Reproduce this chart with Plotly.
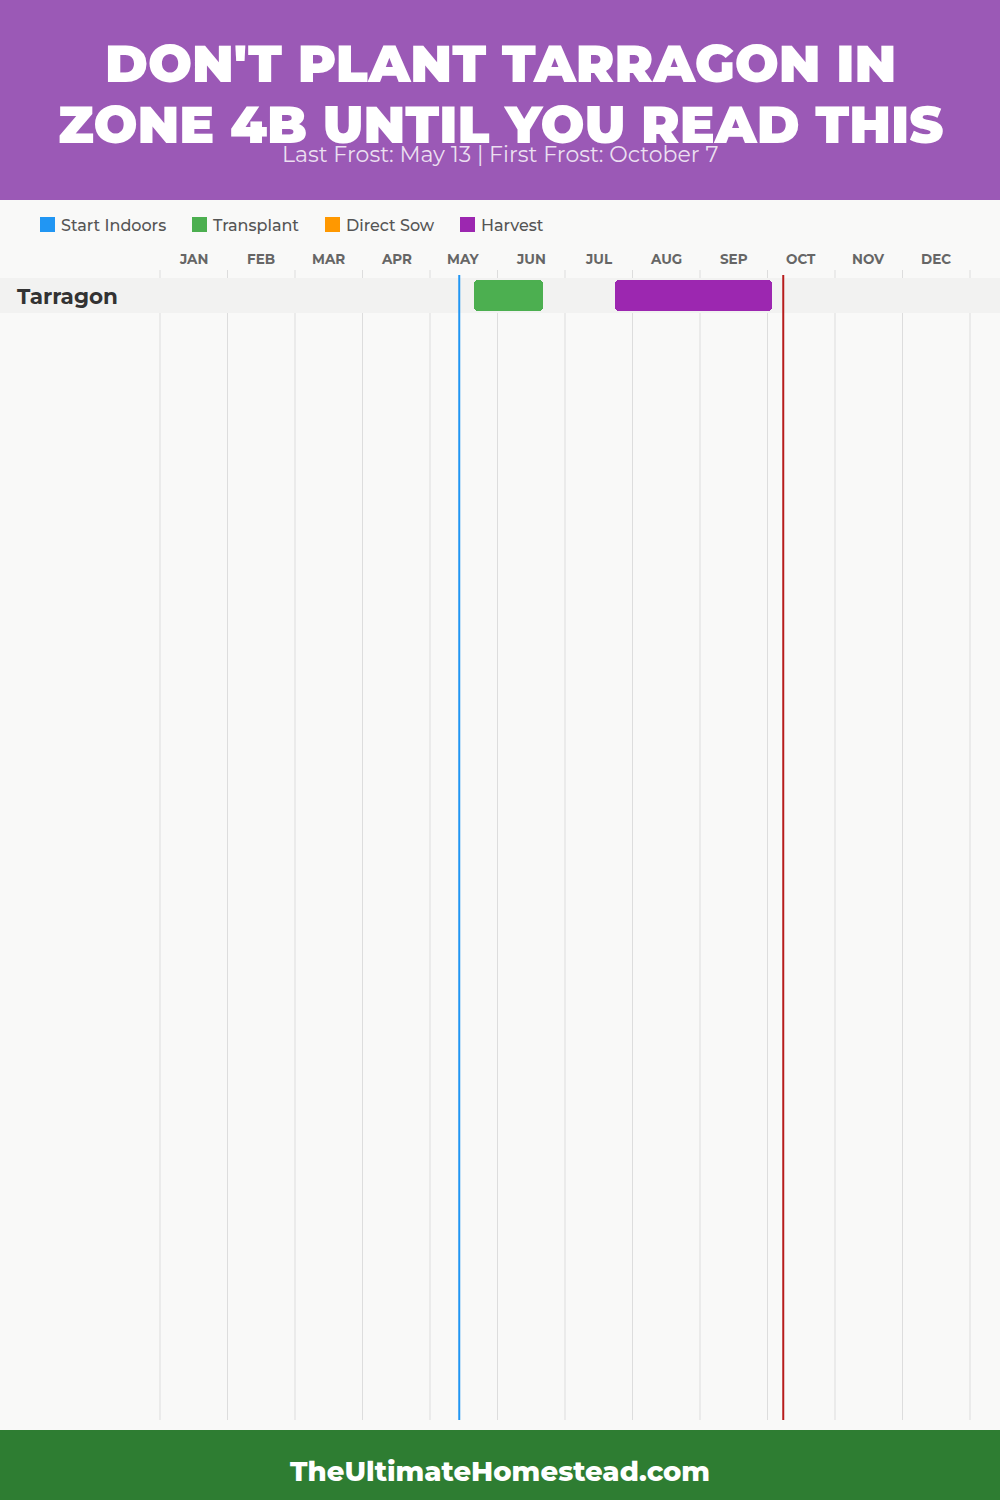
import plotly.graph_objects as go

# ---------------- data ----------------
title_lines = ["DON'T PLANT TARRAGON IN", "ZONE 4B UNTIL YOU READ THIS"]
subtitle = "Last Frost: May 13 | First Frost: October 7"
footer = "TheUltimateHomestead.com"
months = ["JAN", "FEB", "MAR", "APR", "MAY", "JUN", "JUL", "AUG", "SEP", "OCT", "NOV", "DEC"]
crops = ["Tarragon"]
legend_names = ["Start Indoors", "Transplant", "Direct Sow", "Harvest"]
legend_colors = ["#2196F3", "#4CAF50", "#FF9800", "#9C27B0"]
# month positions (0 = Jan 1, 12 = end of Dec)
transplant_start = [4.65]
transplant_end = [5.67]
harvest_start = [6.74]
harvest_end = [9.07]
last_frost = 4 + 13 / 30   # May 13
first_frost = 9 + 7 / 30   # Oct 7

# ---------------- layout helpers ----------------
W, H = 1000, 1500
X0, MW = 160, 67.5          # pixel of Jan 1, pixels per month
ROW0, RH = 295.5, 35        # pixel center of first row, row height
FONT = "Montserrat, Inter, 'Open Sans', sans-serif"


def py(p):  # pixel y -> paper y
    return 1 - p / H


fig = go.Figure()

fig.add_trace(go.Bar(
    y=list(range(len(crops))), base=transplant_start,
    x=[e - s for s, e in zip(transplant_start, transplant_end)],
    orientation="h", width=0.86, marker=dict(color=legend_colors[1], cornerradius=4, line_width=0),
    name="Transplant", showlegend=False, hoverinfo="skip"))
fig.add_trace(go.Bar(
    y=list(range(len(crops))), base=harvest_start,
    x=[e - s for s, e in zip(harvest_start, harvest_end)],
    orientation="h", width=0.86, marker=dict(color=legend_colors[3], cornerradius=4, line_width=0),
    name="Harvest", showlegend=False, hoverinfo="skip"))

shapes = []
annotations = []

# header / footer
shapes.append(dict(type="rect", xref="paper", yref="paper", x0=0, x1=1, y0=py(200), y1=1,
                   fillcolor="#9B59B6", line_width=0, layer="below"))
shapes.append(dict(type="rect", xref="paper", yref="paper", x0=0, x1=1, y0=0, y1=py(1430),
                   fillcolor="#2E7D32", line_width=0, layer="below"))

# gridlines
for i in range(len(months) + 1):
    shapes.append(dict(type="line", xref="x", yref="paper", x0=i, x1=i, y0=py(1420), y1=py(270),
                       line=dict(color="#DDDDDD", width=1), layer="below"))

# row bands
for r, c in enumerate(crops):
    shapes.append(dict(type="rect", xref="paper", yref="y", x0=0, x1=1, y0=r - 0.5, y1=r + 0.5,
                       fillcolor="#F2F2F1", line_width=0, layer="below"))
    annotations.append(dict(text=f"<b>{c}</b>", xref="paper", yref="y", x=15 / W, y=r,
                            xanchor="left", yanchor="middle", showarrow=False,
                            font=dict(family=FONT, size=21.5, color="#333333")))

# frost lines
shapes.append(dict(type="line", xref="x", yref="paper", x0=last_frost, x1=last_frost,
                   y0=py(1420), y1=py(275), line=dict(color="#2196F3", width=2)))
shapes.append(dict(type="line", xref="x", yref="paper", x0=first_frost, x1=first_frost,
                   y0=py(1420), y1=py(275), line=dict(color="#B71C1C", width=2)))

# month labels
for i, m in enumerate(months):
    annotations.append(dict(text=f"<b>{m}</b>", xref="x", yref="paper", x=i + 0.5, y=py(259),
                            xanchor="center", yanchor="middle", showarrow=False,
                            font=dict(family=FONT, size=13.5, color="#666666")))

# legend
legend_x = [40, 192, 325, 460]
for name, col, lx in zip(legend_names, legend_colors, legend_x):
    shapes.append(dict(type="rect", xref="paper", yref="paper", x0=lx / W, x1=(lx + 15) / W,
                       y0=py(232), y1=py(217), fillcolor=col, line_width=0))
    annotations.append(dict(text=name, xref="paper", yref="paper", x=(lx + 19) / W, y=py(225),
                            xanchor="left", yanchor="middle", showarrow=False,
                            font=dict(family=FONT, size=16, color="#555555", weight=500)))

# title
for txt, yc in zip(title_lines, [64, 124]):
    annotations.append(dict(text=txt, xref="paper", yref="paper", x=0.5, y=py(yc),
                            xanchor="center", yanchor="middle", showarrow=False,
                            font=dict(family=FONT, size=52, color="white", weight=900)))
annotations.append(dict(text=subtitle, xref="paper", yref="paper", x=0.5, y=py(154),
                        xanchor="center", yanchor="middle", showarrow=False,
                        font=dict(family=FONT, size=22, color="rgba(255,255,255,0.82)")))
annotations.append(dict(text=footer, xref="paper", yref="paper", x=0.5, y=py(1471),
                        xanchor="center", yanchor="middle", showarrow=False,
                        font=dict(family=FONT, size=27.5, color="white", weight=800)))

fig.update_layout(
    width=W, height=H,
    margin=dict(l=0, r=0, t=0, b=0),
    paper_bgcolor="#F9F9F8", plot_bgcolor="rgba(0,0,0,0)",
    xaxis=dict(range=[-X0 / MW, (W - X0) / MW], showgrid=False, zeroline=False,
               showticklabels=False, fixedrange=True),
    yaxis=dict(range=[(H - ROW0) / RH, -ROW0 / RH], showgrid=False, zeroline=False,
               showticklabels=False, fixedrange=True),
    shapes=shapes, annotations=annotations, showlegend=False,
    barmode="overlay", bargap=0,
)

fig.write_html("out.html", config={"displayModeBar": False},
               post_script="document.body.style.margin='0';document.body.style.overflow='hidden';")
